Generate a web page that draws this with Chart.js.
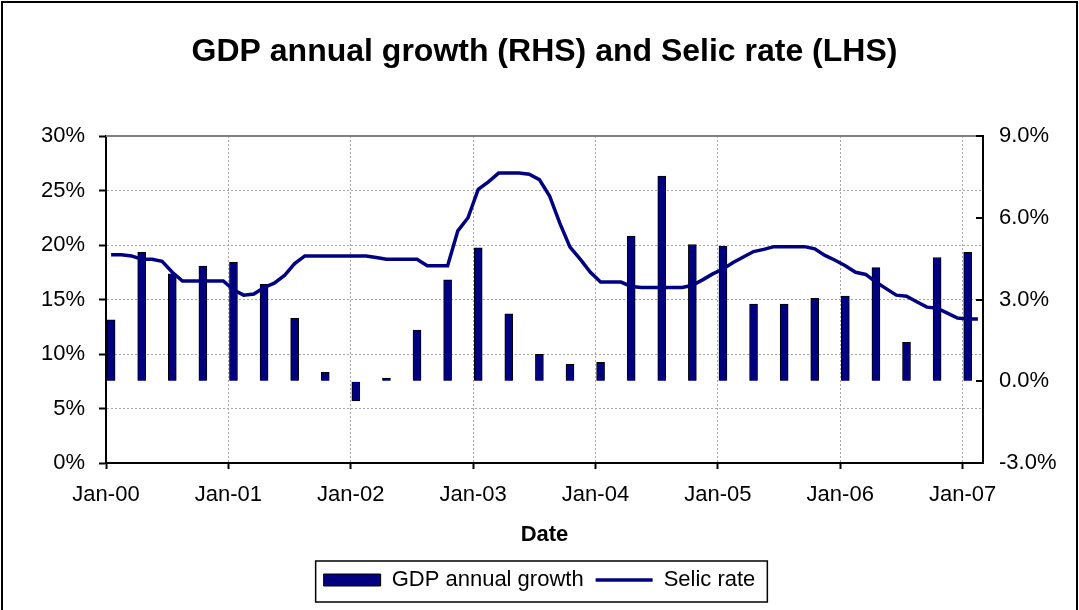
<!DOCTYPE html>
<html>
<head>
<meta charset="utf-8">
<title>GDP annual growth and Selic rate</title>
<script src="https://cdn.jsdelivr.net/npm/chart.js@4.4.1/dist/chart.umd.min.js"></script>
<style>
  html, body { margin: 0; padding: 0; background: #fff; }
  #wrap { position: relative; width: 1079px; height: 610px; }
</style>
</head>
<body>
<div id="wrap"><canvas id="chart" width="1079" height="610"></canvas></div>
<script>
// GDP growth, year on year (%), one bar per quarter from Q1 2000 to Q1 2007 (right axis)
const gdpGrowth = [
  2.25, 4.73, 3.94, 4.23,
  4.36, 3.56, 2.31, 0.33,
  -0.72, 0.12, 1.88, 3.72,
  4.90, 2.47, 0.99, 0.62,
  0.69, 5.33, 7.53, 5.02,
  4.96, 2.83, 2.83, 3.04,
  3.13, 4.17, 1.43, 4.54,
  4.73
];

// Selic rate (%), monthly from Jan-00 to Feb-07 (left axis)
const selicRate = [
  19.1, 19.1, 19.0, 18.7, 18.7, 18.5, 17.5, 16.7, 16.7, 16.7, 16.7, 16.7,
  15.9, 15.4, 15.5, 16.1, 16.5, 17.2, 18.3, 19.0, 19.0, 19.0, 19.0, 19.0,
  19.0, 19.0, 18.85, 18.7, 18.7, 18.7, 18.7, 18.1, 18.1, 18.1, 21.3, 22.5,
  25.1, 25.8, 26.6, 26.6, 26.6, 26.5, 26.0, 24.5, 22.0, 19.8, 18.7, 17.5,
  16.6, 16.6, 16.6, 16.2, 16.1, 16.1, 16.1, 16.1, 16.1, 16.3, 16.8, 17.35,
  17.8, 18.4, 18.9, 19.4, 19.6, 19.85, 19.85, 19.85, 19.85, 19.65, 19.05, 18.6,
  18.1, 17.5, 17.3, 16.6, 16.0, 15.4, 15.3, 14.8, 14.3, 14.2, 13.75, 13.3,
  13.2, 13.2
];

const yearLabels = ["Jan-00", "Jan-01", "Jan-02", "Jan-03", "Jan-04", "Jan-05", "Jan-06", "Jan-07"];

const NAVY = "#000080";
const GRID = "#a6a6a6";
const FONT = '"Liberation Sans", Arial, sans-serif';

Chart.defaults.font.family = FONT;
Chart.defaults.color = "#000";

// x runs in months from Jan-00; each month/quarter sits in the middle of its slot
const barPoints = gdpGrowth.map((v, q) => ({ x: q * 3 + 0.5, y: v }));
const linePoints = selicRate.map((v, i) => ({ x: i + 0.5, y: v }));

// Outer frame, plot-area top edge, inward ticks on the right axis and the legend box
const decorations = {
  id: "decorations",
  afterDraw(chart) {
    const { ctx, chartArea: a, legend } = chart;
    ctx.save();
    ctx.strokeStyle = "#000";
    ctx.lineWidth = 2;
    ctx.beginPath();
    ctx.moveTo(2, 610); ctx.lineTo(2, 2); ctx.lineTo(1077, 2); ctx.lineTo(1077, 610);
    ctx.stroke();

    ctx.strokeStyle = "#808080";
    ctx.beginPath();
    ctx.moveTo(a.left, a.top); ctx.lineTo(a.right, a.top);
    ctx.stroke();

    const y1 = chart.scales.y1;
    ctx.strokeStyle = "#000";
    y1.ticks.forEach((t) => {
      const p = Math.round(y1.getPixelForValue(t.value));
      ctx.beginPath();
      ctx.moveTo(a.right - 7, p); ctx.lineTo(a.right, p);
      ctx.stroke();
    });

    const boxes = legend.legendHitBoxes;
    if (boxes && boxes.length) {
      const left = Math.min(...boxes.map((b) => b.left)) - 8;
      const right = Math.max(...boxes.map((b) => b.left + b.width)) + 12;
      const top = Math.min(...boxes.map((b) => b.top)) - 8;
      const bottom = Math.max(...boxes.map((b) => b.top + b.height)) + 11;
      ctx.lineWidth = 1.5;
      ctx.strokeRect(left, top, right - left, bottom - top);
    }
    ctx.restore();
  },
};

new Chart(document.getElementById("chart"), {
  type: "bar",
  data: {
    datasets: [
      {
        type: "bar",
        label: "GDP annual growth",
        data: barPoints,
        yAxisID: "y1",
        backgroundColor: NAVY,
        borderColor: "#000",
        borderWidth: 1,
        barThickness: 8,
        pointStyle: "rect",
        order: 2,
      },
      {
        type: "line",
        label: "Selic rate",
        data: linePoints,
        yAxisID: "y",
        borderColor: NAVY,
        backgroundColor: NAVY,
        borderWidth: 3.5,
        pointRadius: 0,
        tension: 0,
        pointStyle: "line",
        order: 1,
      },
    ],
  },
  options: {
    responsive: false,
    animation: false,
    layout: { padding: { left: 0, right: 0, top: 0, bottom: 9 } },
    scales: {
      x: {
        type: "linear",
        min: 0,
        max: 86,
        offset: false,
        afterBuildTicks: (s) => { s.ticks = yearLabels.map((_, k) => ({ value: k * 12 })); },
        afterFit: (s) => { s.height = 94; },
        ticks: {
          autoSkip: false,
          maxRotation: 0,
          padding: 13,
          font: { size: 22 },
          callback: (v, i) => yearLabels[i],
        },
        grid: { color: GRID, tickColor: "#000", tickLength: 6, tickWidth: 2, offset: false },
        border: { color: "#000", width: 2, dash: [2, 2] },
        title: {
          display: true,
          text: "Date",
          font: { size: 22, weight: "bold" },
          padding: { top: 4, bottom: 9 },
        },
      },
      y: {
        position: "left",
        min: 0,
        max: 30,
        afterFit: (s) => { s.width = 106; },
        ticks: { stepSize: 5, padding: 14, font: { size: 22 }, callback: (v) => v + "%" },
        grid: { color: GRID, tickColor: "#000", tickLength: 7, tickWidth: 2 },
        border: { color: "#000", width: 2, dash: [2, 2] },
      },
      y1: {
        position: "right",
        min: -3,
        max: 9,
        afterFit: (s) => { s.width = 96; },
        ticks: { stepSize: 3, padding: 16, font: { size: 22 }, callback: (v) => v.toFixed(1) + "%" },
        grid: { drawOnChartArea: false, drawTicks: false },
        border: { color: "#000", width: 2 },
      },
    },
    plugins: {
      title: {
        display: true,
        fullSize: false,
        text: "GDP annual growth (RHS) and Selic rate (LHS)",
        color: "#000",
        font: { size: 32, weight: "bold" },
        padding: { top: 33, bottom: 64.6 },
      },
      legend: {
        position: "bottom",
        labels: {
          usePointStyle: true,
          pointStyleWidth: 57,
          boxHeight: 12,
          padding: 12,
          color: "#000",
          font: { size: 22 },
          sort: (a, b) => a.datasetIndex - b.datasetIndex,
        },
      },
      tooltip: { enabled: false },
    },
  },
  plugins: [decorations],
});
</script>
</body>
</html>
